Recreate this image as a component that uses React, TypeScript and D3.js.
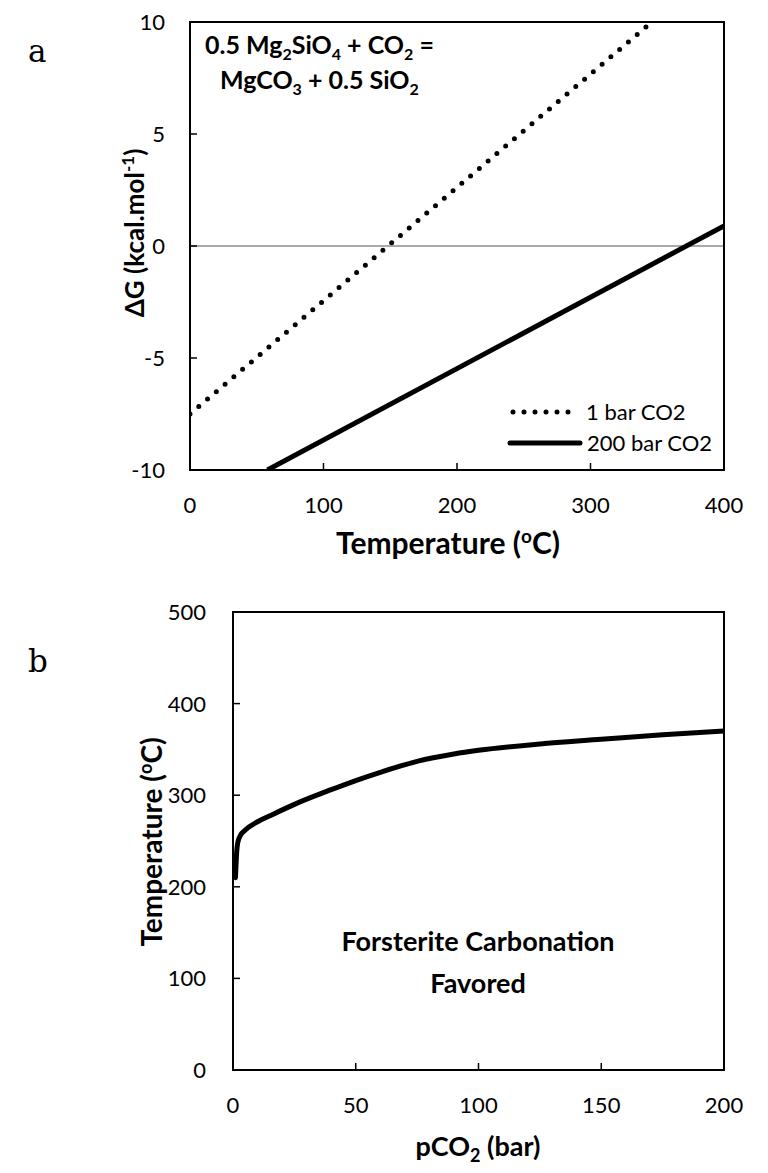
import React from "react";
import * as d3 from "d3";

// Panel a
const tempTicksA = [0, 100, 200, 300, 400];
const dgTicks = [-10, -5, 0, 5, 10];
const line1Temp = [0, 346];
const line1DG = [-7.5, 10];
const line200Temp = [58, 400];
const line200DG = [-10, 0.9];
const legendLabels = ["1 bar CO2", "200 bar CO2"];

// Panel b
const pTicks = [0, 50, 100, 150, 200];
const tTicksB = [0, 100, 200, 300, 400, 500];
const pco2 = [1, 1.5, 2, 3, 5, 10, 15, 25, 40, 50, 60, 75, 90, 100, 125, 150, 175, 200];
const tEq = [210, 238, 249, 256, 262, 271, 277.5, 290, 306, 316, 325, 337, 345, 349, 356, 361, 366, 370];

const FONT = "Lato, 'Open Sans', sans-serif";

export default function App() {
  const xa = d3.scaleLinear().domain([0, 400]).range([190, 724]);
  const ya = d3.scaleLinear().domain([-10, 10]).range([470, 22]);
  const xb = d3.scaleLinear().domain([0, 200]).range([233, 724]);
  const yb = d3.scaleLinear().domain([0, 500]).range([1070, 612]);

  const lineA = d3
    .line<[number, number]>()
    .x((d) => xa(d[0]))
    .y((d) => ya(d[1]));
  const l1 = lineA(line1Temp.map((t, i) => [t, line1DG[i]]));
  const l200 = lineA(line200Temp.map((t, i) => [t, line200DG[i]]));

  const lineB = d3
    .line<[number, number]>()
    .x((d) => xb(d[0]))
    .y((d) => yb(d[1]))
    .curve(d3.curveMonotoneX);
  const lb = lineB(pco2.map((p, i) => [p, tEq[i]]));

  const tickLen = 7;
  const tickFs = 22;

  return (
    <svg
      width={768}
      height={1173}
      style={{ position: "absolute", left: 0, top: 0, background: "#fff" }}
      fontFamily={FONT}
    >
      <defs>
        <clipPath id="clipA">
          <rect x={190} y={22} width={534} height={448} />
        </clipPath>
        <clipPath id="clipB">
          <rect x={233} y={612} width={491} height={458} />
        </clipPath>
      </defs>

      <text x={28} y={62} fontFamily="'DejaVu Serif', 'Liberation Serif', serif" fontSize={31}>
        a
      </text>
      <text x={28} y={672} fontFamily="'DejaVu Serif', 'Liberation Serif', serif" fontSize={31}>
        b
      </text>

      {/* ===== Panel a ===== */}
      <line x1={190} x2={724} y1={ya(0)} y2={ya(0)} stroke="#555" strokeWidth={1} />
      {tempTicksA.map((t) => (
        <g key={"xa" + t}>
          <line x1={xa(t)} x2={xa(t)} y1={470} y2={470 - tickLen} stroke="#000" strokeWidth={1.5} />
          <text x={xa(t)} y={513} textAnchor="middle" fontSize={tickFs}>
            {t}
          </text>
        </g>
      ))}
      {dgTicks.map((v) => (
        <g key={"ya" + v}>
          <line x1={190} x2={190 + tickLen} y1={ya(v)} y2={ya(v)} stroke="#000" strokeWidth={1.5} />
          <text x={165} y={ya(v) + 8} textAnchor="end" fontSize={tickFs}>
            {v}
          </text>
        </g>
      ))}
      <g clipPath="url(#clipA)">
        <path d={l1 || ""} fill="none" stroke="#000" strokeWidth={5} strokeDasharray="0 11.5" strokeLinecap="round" />
        <path d={l200 || ""} fill="none" stroke="#000" strokeWidth={5} />
      </g>
      <rect x={190} y={22} width={534} height={448} fill="none" stroke="#000" strokeWidth={2} />

      <text x={205} y={54} fontSize={25} fontWeight="bold">
        0.5 Mg<tspan dy={6} fontSize={16}>2</tspan>
        <tspan dy={-6}>SiO</tspan>
        <tspan dy={6} fontSize={16}>4</tspan>
        <tspan dy={-6}> + CO</tspan>
        <tspan dy={6} fontSize={16}>2</tspan>
        <tspan dy={-6}> =</tspan>
      </text>
      <text x={220} y={89} fontSize={25} fontWeight="bold">
        MgCO<tspan dy={6} fontSize={16}>3</tspan>
        <tspan dy={-6}> + 0.5 SiO</tspan>
        <tspan dy={6} fontSize={16}>2</tspan>
      </text>

      <line x1={513} x2={579} y1={412} y2={412} stroke="#000" strokeWidth={5} strokeDasharray="0 11" strokeLinecap="round" />
      <text x={586} y={420} fontSize={22}>
        {legendLabels[0]}
      </text>
      <line x1={510} x2={580} y1={443} y2={443} stroke="#000" strokeWidth={5} strokeLinecap="round" />
      <text x={587} y={451} fontSize={22}>
        {legendLabels[1]}
      </text>

      <text x={448} y={554} textAnchor="middle" fontSize={30} fontWeight="bold">
        Temperature (<tspan dy={-11} fontSize={19}>o</tspan>
        <tspan dy={11}>C)</tspan>
      </text>
      <text transform={`translate(144, 233) rotate(-90)`} textAnchor="middle" fontSize={26} fontWeight="bold">
        ΔG (kcal.mol<tspan dy={-10} fontSize={17}>-1</tspan>
        <tspan dy={10}>)</tspan>
      </text>

      {/* ===== Panel b ===== */}
      {pTicks.map((p) => (
        <g key={"xb" + p}>
          <line x1={xb(p)} x2={xb(p)} y1={1070} y2={1070 - tickLen} stroke="#000" strokeWidth={1.5} />
          <text x={xb(p)} y={1113} textAnchor="middle" fontSize={tickFs}>
            {p}
          </text>
        </g>
      ))}
      {tTicksB.map((v) => (
        <g key={"yb" + v}>
          <line x1={233} x2={233 + tickLen} y1={yb(v)} y2={yb(v)} stroke="#000" strokeWidth={1.5} />
          <text x={206} y={yb(v) + 8} textAnchor="end" fontSize={tickFs}>
            {v}
          </text>
        </g>
      ))}
      <g clipPath="url(#clipB)">
        <path d={lb || ""} fill="none" stroke="#000" strokeWidth={5} strokeLinecap="round" />
      </g>
      <rect x={233} y={612} width={491} height={458} fill="none" stroke="#000" strokeWidth={2} />

      <text x={478} y={951} textAnchor="middle" fontSize={27} fontWeight="bold">
        Forsterite Carbonation
      </text>
      <text x={478} y={993} textAnchor="middle" fontSize={27} fontWeight="bold">
        Favored
      </text>

      <text x={478} y={1156} textAnchor="middle" fontSize={27} fontWeight="bold">
        pCO<tspan dy={6} fontSize={18}>2</tspan>
        <tspan dy={-6}> (bar)</tspan>
      </text>
      <text transform={`translate(162, 842) rotate(-90)`} textAnchor="middle" fontSize={28} fontWeight="bold">
        Temperature (<tspan dy={-10} fontSize={18}>o</tspan>
        <tspan dy={10}>C)</tspan>
      </text>
    </svg>
  );
}
